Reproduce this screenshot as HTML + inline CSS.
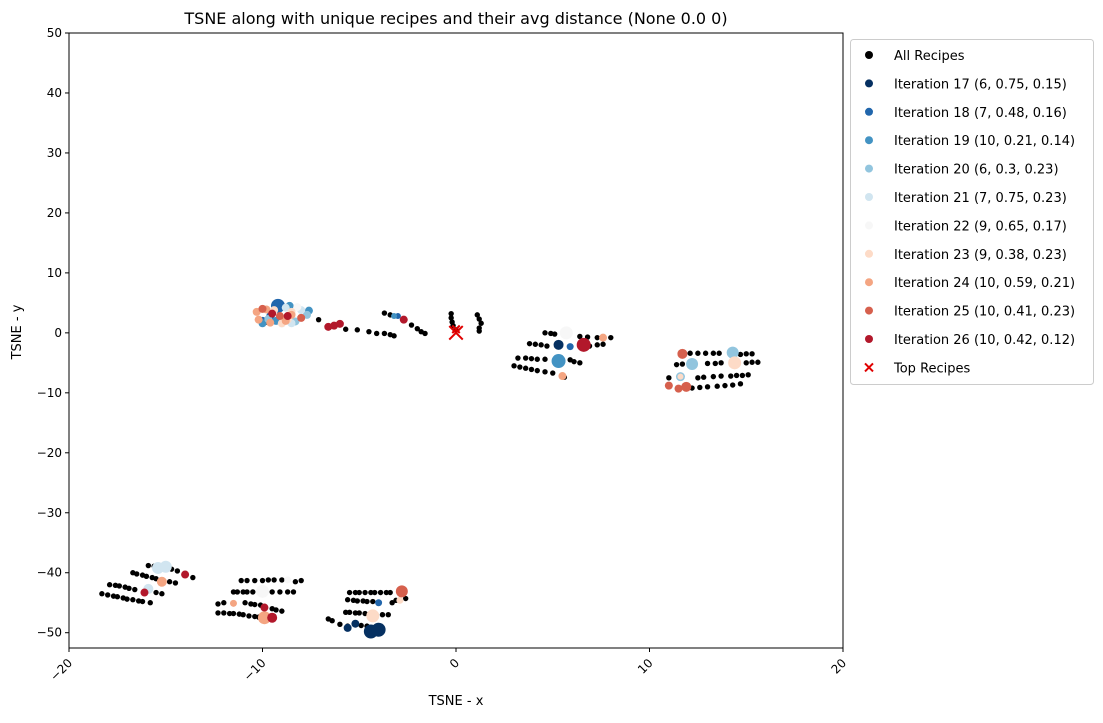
<!DOCTYPE html>
<html><head><meta charset="utf-8"><style>
body{margin:0;background:#fff;font-family:"Liberation Sans","DejaVu Sans",sans-serif}
svg text{font-family:"DejaVu Sans","Liberation Sans",sans-serif}
</style></head><body>
<svg id="c" width="1103" height="718" xmlns="http://www.w3.org/2000/svg">
<text x="456" y="24" text-anchor="middle" font-size="16">TSNE along with unique recipes and their avg distance (None 0.0 0)</text>
<text x="456" y="705" text-anchor="middle" font-size="13">TSNE - x</text>
<text x="21" y="332" text-anchor="middle" font-size="13" transform="rotate(-90 21 332)">TSNE - y</text>
<g id="plot"></g>
<g id="axes"></g>
<g id="legend"></g>
</svg>
<script>
const xTicks=[-20,-10,0,10,20];
const yTicks=[50,40,30,20,10,0,-10,-20,-30,-40,-50];
const allRecipes=[
[-7.1,2.2],[-5.7,0.6],[-5.1,0.5],[-4.5,0.2],[-4.1,-0.1],[-3.7,-0.1],[-3.4,-0.3],[-3.2,-0.5],
[-3.7,3.3],[-3.4,3.0],[-2.3,1.3],[-2.0,0.7],[-1.8,0.2],[-1.6,-0.1],
[-0.25,3.2],[-0.25,2.5],[-0.2,1.8],[-0.15,1.2],[0,0.5],[1.1,3.0],[1.2,2.3],[1.3,1.6],[1.2,0.8],[1.2,0.3],
[4.6,0],[4.9,-0.1],[5.1,-0.2],[6.4,-0.6],[6.8,-0.7],[7.3,-0.8],[8.0,-0.8],
[3.8,-1.8],[4.1,-1.9],[4.4,-2.0],[4.7,-2.2],[6.9,-2.2],[7.3,-2.0],[7.6,-1.9],
[3.2,-4.2],[3.6,-4.2],[3.9,-4.3],[4.2,-4.4],[4.6,-4.4],[5.9,-4.5],[6.1,-4.8],[6.4,-5.0],
[3.0,-5.5],[3.3,-5.7],[3.6,-5.9],[3.9,-6.1],[4.2,-6.3],[4.6,-6.5],[5.0,-6.7],[5.6,-7.4],
[12.1,-3.4],[12.5,-3.4],[12.9,-3.4],[13.3,-3.4],[13.6,-3.4],[14.7,-3.6],[15.0,-3.5],[15.3,-3.5],
[11.4,-5.3],[11.7,-5.2],[13.0,-5.1],[13.4,-5.1],[13.7,-5.0],[15.0,-5.0],[15.3,-4.9],[15.6,-4.9],
[11.0,-7.5],[12.5,-7.5],[12.8,-7.4],[13.3,-7.3],[13.7,-7.2],[14.2,-7.2],[14.5,-7.1],[14.8,-7.1],[15.1,-7.0],
[12.2,-9.2],[12.6,-9.1],[13.0,-9.0],[13.5,-8.9],[13.9,-8.8],[14.3,-8.7],[14.7,-8.5],
[-15.9,-38.8],[-15.6,-38.9],[-14.7,-39.4],[-14.4,-39.7],[-13.6,-40.8],
[-16.7,-40.0],[-16.5,-40.2],[-16.2,-40.4],[-16.0,-40.6],[-15.7,-40.8],[-15.5,-41.0],[-14.8,-41.5],[-14.5,-41.7],
[-17.9,-42.0],[-17.6,-42.1],[-17.4,-42.2],[-17.1,-42.4],[-16.9,-42.6],[-16.6,-42.8],[-15.5,-43.3],[-15.2,-43.5],
[-18.3,-43.5],[-18.0,-43.7],[-17.7,-43.9],[-17.5,-44.0],[-17.2,-44.2],[-17.0,-44.4],[-16.7,-44.5],[-16.4,-44.7],[-16.2,-44.8],[-15.8,-45.0],
[-11.1,-41.3],[-10.8,-41.3],[-10.4,-41.3],[-10.0,-41.3],[-9.7,-41.2],[-9.4,-41.2],[-9.0,-41.2],[-8.3,-41.5],[-8.0,-41.3],
[-11.5,-43.2],[-11.3,-43.2],[-11.0,-43.2],[-10.8,-43.2],[-10.5,-43.2],[-9.5,-43.2],[-9.1,-43.2],[-8.7,-43.2],[-8.4,-43.2],
[-12.3,-45.2],[-12.0,-45.0],[-10.9,-45.0],[-10.6,-45.2],[-10.4,-45.3],[-10.1,-45.4],[-9.5,-46.0],[-9.3,-46.2],[-9.0,-46.4],
[-12.3,-46.7],[-12.0,-46.7],[-11.7,-46.8],[-11.5,-46.8],[-11.2,-46.9],[-11.0,-47.0],[-10.7,-47.2],[-10.4,-47.3],[-10.2,-47.4],
[-5.5,-43.3],[-5.2,-43.3],[-5.0,-43.3],[-4.7,-43.3],[-4.4,-43.3],[-4.2,-43.3],[-3.9,-43.3],[-3.6,-43.3],[-3.4,-43.3],[-2.6,-44.3],
[-5.6,-44.5],[-5.3,-44.6],[-5.1,-44.7],[-4.8,-44.7],[-4.6,-44.8],[-4.3,-44.8],[-3.3,-45.0],[-3.1,-44.6],
[-5.7,-46.6],[-5.5,-46.6],[-5.2,-46.7],[-5.0,-46.7],[-4.7,-46.8],[-3.8,-47.0],[-3.5,-47.0],
[-6.6,-47.7],[-6.4,-48.0],[-6.0,-48.6],[-5.6,-48.9],[-4.9,-48.8],[-4.6,-48.9],[-9.8,1.8]
];
const itNames=["Iteration 17 (6, 0.75, 0.15)","Iteration 18 (7, 0.48, 0.16)","Iteration 19 (10, 0.21, 0.14)","Iteration 20 (6, 0.3, 0.23)","Iteration 21 (7, 0.75, 0.23)","Iteration 22 (9, 0.65, 0.17)","Iteration 23 (9, 0.38, 0.23)","Iteration 24 (10, 0.59, 0.21)","Iteration 25 (10, 0.41, 0.23)","Iteration 26 (10, 0.42, 0.12)"];
const itColors=["#053061","#2166ac","#4393c3","#92c5de","#d1e5f0","#f7f7f7","#fddbc7","#f4a582","#d6604d","#b2182b"];
// [x, y, markerSize]
const it17=[[5.3,-2.0,5],[-5.6,-49.2,4],[-5.2,-48.5,4],[-4.4,-49.8,7],[-4.0,-49.5,7]];
const it18=[[-9.2,4.5,7],[-10.0,2.0,4],[-9.6,2.8,4],[5.9,-2.3,3.5],[-4.0,-45.0,3.5],[-3.0,2.8,3]];
const it19=[[-10.0,1.6,4],[-8.6,4.5,4],[-7.6,3.7,4],[-9.3,2.0,4],[5.3,-4.7,7],[-3.2,2.8,3]];
const it20=[[-9.7,2.3,4],[-8.3,1.9,4],[-7.7,3.0,4],[14.3,-3.3,6],[12.2,-5.2,6],[11.6,-7.3,4.5]];
const it21=[[-8.8,4.2,4],[-8.0,3.8,4],[-8.5,1.6,4],[-15.4,-39.2,6],[-15.0,-39.0,6],[-15.9,-42.7,5]];
const it22=[[-8.2,4.3,4],[-9.0,1.5,4],[5.7,0,6.5],[-8.7,-41.2,3.5],[-10.0,-43.1,6.5]];
const it23=[[-9.4,3.8,4],[-9.0,1.6,4],[-8.5,3.5,4],[-8.7,2.2,4],[14.4,-5.0,6.5],[11.6,-7.3,3],[-4.3,-47.2,6.5],[-2.9,-44.6,3.5]];
const it24=[[-10.3,3.5,4],[-10.2,2.2,4],[-9.6,1.7,4],[-8.8,2.0,4],[-9.8,3.9,4],[-8.5,3.0,4],[7.6,-0.8,4],[5.5,-7.2,4],[-15.2,-41.5,5],[-11.5,-45.1,3.5],[-9.9,-47.5,6.5]];
const it25=[[-10.0,4.0,4],[-9.1,2.8,4],[-8.0,2.5,4],[11.7,-3.5,5],[11.0,-8.8,4],[11.5,-9.3,4],[11.9,-9.0,5],[-2.8,-43.1,6]];
const it26=[[-9.5,3.2,4],[-8.7,2.8,4],[-6.6,1.0,4],[-6.3,1.2,4],[-6.0,1.5,4],[-2.7,2.2,4],[6.6,-2.0,7],[-14.0,-40.3,4],[-16.1,-43.3,4],[-9.9,-45.8,4],[-9.5,-47.5,5]];
const iterations=[it17,it18,it19,it20,it21,it22,it23,it24,it25,it26];
const topRecipes=[[0,0,9],[0,0.6,5]];

const NS="http://www.w3.org/2000/svg";
const L=69,R=843,T=33,B=648,xmin=-20,xmax=20,ymin=-52.55,ymax=50;
const sx=v=>L+(v-xmin)/(xmax-xmin)*(R-L);
const sy=v=>B-(v-ymin)/(ymax-ymin)*(B-T);
function mk(tag,attrs,parent){const e=document.createElementNS(NS,tag);for(const k in attrs)e.setAttribute(k,attrs[k]);parent.appendChild(e);return e;}
const plot=document.getElementById('plot'),axes=document.getElementById('axes'),leg=document.getElementById('legend');
allRecipes.forEach(p=>{const c=mk('circle',{cx:sx(p[0]),cy:sy(p[1]),r:2.7,fill:'#000'},plot);

});
iterations.forEach((arr,i)=>arr.forEach(p=>{const c=mk('circle',{cx:sx(p[0]),cy:sy(p[1]),r:p[2],fill:itColors[i]},plot);

}));
topRecipes.forEach(p=>{const g=mk('g',{},plot);


const x=sx(p[0]),y=sy(p[1]),s=p[2]*0.75;
mk('path',{d:`M${x-s},${y-s}L${x+s},${y+s}M${x-s},${y+s}L${x+s},${y-s}`,stroke:'#e00000','stroke-width':2},g);});
const frame=mk('rect',{x:L,y:T,width:R-L,height:B-T,fill:'none',stroke:'#000','stroke-width':1},axes);


xTicks.forEach(v=>{const x=sx(v);mk('line',{x1:x,y1:B,x2:x,y2:B+4,stroke:'#000'},axes);
const t=mk('text',{x:x,y:B+14,'font-size':12,'text-anchor':'end',transform:`rotate(-45 ${x+4} ${B+10})`},axes);
t.textContent=(v<0?'\u2212':'')+Math.abs(v);

});
yTicks.forEach(v=>{const y=sy(v);mk('line',{x1:L-4,y1:y,x2:L,y2:y,stroke:'#000'},axes);
const t=mk('text',{x:L-7,y:y+4,'font-size':12,'text-anchor':'end'},axes);
t.textContent=(v<0?'\u2212':'')+Math.abs(v);

});
const box=mk('rect',{x:850.5,y:39.5,width:243,height:345,rx:3,fill:'#fff',stroke:'#ccc'},leg);


const labels=['All Recipes'].concat(itNames).concat(['Top Recipes']);
const cols=['#000'].concat(itColors).concat(['#e00000']);
labels.forEach((lb,i)=>{const y=55+i*28.4;const g=mk('g',{},leg);


if(i===labels.length-1){mk('path',{d:`M865,${y-4}L873,${y+4}M865,${y+4}L873,${y-4}`,stroke:cols[i],'stroke-width':2},g);}
else mk('circle',{cx:869,cy:y,r:4,fill:cols[i]},g);
const t=mk('text',{x:894,y:y+5,'font-size':13},g);t.textContent=lb;});
</script>
</body></html>
